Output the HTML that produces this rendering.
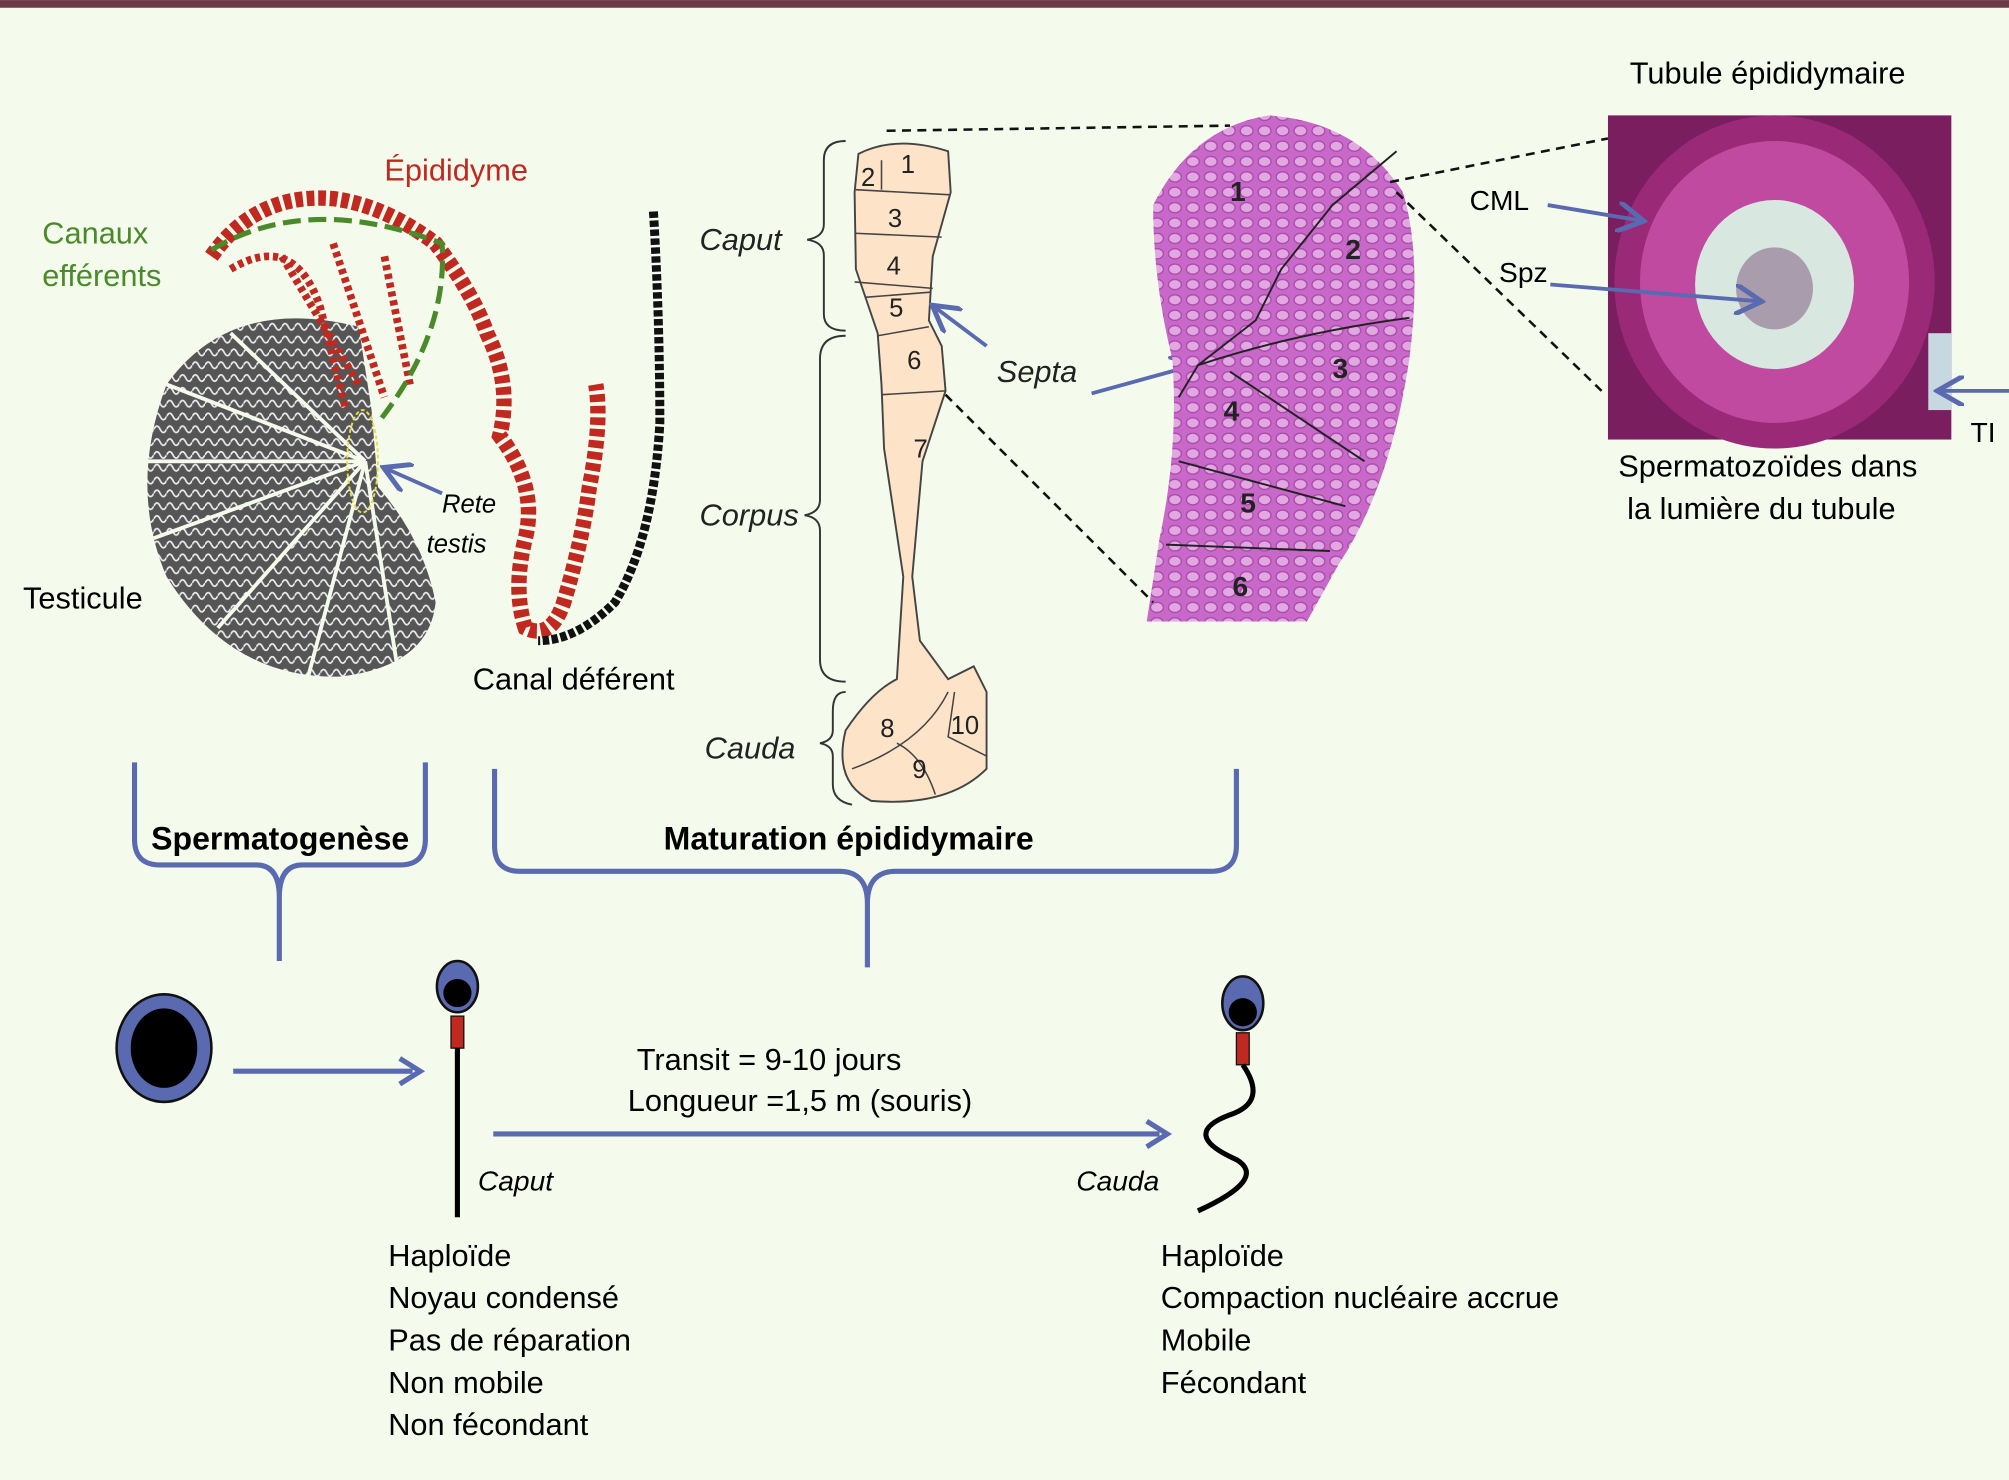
<!DOCTYPE html>
<html><head><meta charset="utf-8"><style>
html,body{margin:0;padding:0;background:#f4fbec}
svg{display:block}
text{font-family:"Liberation Sans",sans-serif}
</style></head><body>
<svg width="2009" height="1480" viewBox="0 0 1568 1155" xmlns="http://www.w3.org/2000/svg">
<defs>
<pattern id="wig" width="10" height="10" patternUnits="userSpaceOnUse">
<rect width="10" height="10" fill="#555"/>
<path d="M0 5 Q2.5 0 5 5 T10 5" stroke="#eee" stroke-width="1.3" fill="none"/>
</pattern>
<pattern id="cells" width="14" height="12" patternUnits="userSpaceOnUse">
<rect width="14" height="12" fill="#c868c8"/>
<ellipse cx="7" cy="6" rx="5" ry="4" fill="#e2a8e2" stroke="#a848a8" stroke-width="1"/>
</pattern>
<marker id="ah" markerWidth="8" markerHeight="8" refX="6" refY="4" orient="auto" markerUnits="strokeWidth">
<path d="M0 0 L7 4 L0 8" fill="none" stroke="#5a6ab0" stroke-width="1.3"/>
</marker>
</defs>
<rect width="1568" height="1155" fill="#f4fbec"/>
<rect width="1568" height="6" fill="#6e3a48"/>

<!-- testicle -->
<path d="M280 255 Q180 230 130 300 Q100 380 130 450 Q180 530 265 528 Q335 520 340 470 Q330 420 295 380 L290 320 Z" fill="url(#wig)"/>
<g stroke="#f4fbec" stroke-width="3">
<line x1="285" y1="360" x2="130" y2="300"/><line x1="285" y1="360" x2="115" y2="360"/>
<line x1="285" y1="360" x2="120" y2="420"/><line x1="285" y1="360" x2="170" y2="490"/>
<line x1="285" y1="360" x2="240" y2="530"/><line x1="285" y1="360" x2="310" y2="520"/>
<line x1="285" y1="360" x2="180" y2="260"/>
</g>
<ellipse cx="283" cy="360" rx="12" ry="40" fill="none" stroke="#e8e040" stroke-width="1.5" stroke-dasharray="3 2"/>
<!-- epididymis red -->
<path d="M165 200 Q200 150 260 155 Q300 160 340 190 Q370 230 380 260 Q400 300 390 340 Q420 380 410 420 Q400 460 410 490 Q430 500 440 470 Q455 420 460 380 Q470 330 465 300" fill="none" stroke="#c02820" stroke-width="12" stroke-dasharray="6 3"/>
<path d="M180 210 Q230 180 250 240 L270 320 M220 200 L280 300 M260 190 L300 310 M300 200 L320 300" stroke="#c02820" stroke-width="6" fill="none" stroke-dasharray="4 3"/>
<path d="M165 195 Q240 150 345 190 Q350 260 295 330" fill="none" stroke="#4a8a2a" stroke-width="4" stroke-dasharray="14 6"/>
<!-- canal deferent black -->
<path d="M510 165 Q515 250 515 330 Q510 420 480 470 Q450 500 420 500" fill="none" stroke="#111" stroke-width="7" stroke-dasharray="5 2"/>
<line x1="345" y1="385" x2="302" y2="366" stroke="#5a6ab0" stroke-width="3" marker-end="url(#ah)"/>
<text x="300" y="141" font-size="24" fill="#c02820">Épididyme</text>
<text x="33" y="190" font-size="24" fill="#4a8a2a">Canaux</text>
<text x="33" y="223" font-size="24" fill="#4a8a2a">efférents</text>
<text x="18" y="475" font-size="24">Testicule</text>
<text x="345" y="400" font-size="20" font-style="italic">Rete</text>
<text x="333" y="431" font-size="20" font-style="italic">testis</text>
<text x="369" y="538" font-size="24">Canal déférent</text>

<!-- segmented epididymis -->
<path d="M670 120 Q700 105 740 118 L742 150 L728 200 L725 250 L735 270 L738 305 L720 360 L712 450 L718 500 L740 530 L760 520 L770 540 L770 600 Q740 630 680 625 Q650 610 660 570 Q680 540 700 530 L705 450 L690 350 L688 300 L685 260 L668 210 L667 150 Z" fill="#fde3c8" stroke="#444" stroke-width="1.5"/>
<g stroke="#444" stroke-width="1.2" fill="none">
<line x1="668" y1="148" x2="742" y2="152"/><line x1="667" y1="182" x2="735" y2="185"/>
<line x1="667" y1="220" x2="728" y2="225"/><line x1="675" y1="232" x2="726" y2="228"/>
<line x1="685" y1="262" x2="725" y2="255"/><line x1="688" y1="308" x2="738" y2="305"/>
<path d="M665 600 Q720 580 740 540"/><path d="M700 580 Q720 590 730 620"/><path d="M745 540 L740 575 L770 590"/>
<line x1="688" y1="125" x2="688" y2="148"/>
</g>
<g font-size="20" fill="#222">
<text x="703" y="135">1</text><text x="672" y="145">2</text><text x="693" y="177">3</text><text x="692" y="214">4</text><text x="694" y="247">5</text><text x="708" y="288">6</text><text x="713" y="357">7</text><text x="687" y="575">8</text><text x="712" y="607">9</text><text x="742" y="573">10</text>
</g>
<g fill="none" stroke="#333" stroke-width="1.5">
<path d="M660 110 Q643 110 643 125 L643 175 Q643 185 630 187 Q643 189 643 199 L643 245 Q643 258 660 258"/>
<path d="M660 262 Q640 262 640 280 L640 390 Q640 400 628 402 Q640 404 640 414 L640 515 Q640 532 660 532"/>
<path d="M660 540 Q650 540 650 555 L650 570 Q650 578 640 580 Q650 582 650 590 L650 612 Q650 625 665 628"/>
</g>
<g font-size="24" font-style="italic" fill="#222">
<text x="546" y="195">Caput</text><text x="546" y="410">Corpus</text><text x="550" y="592">Cauda</text>
<text x="778" y="298">Septa</text>
</g>
<line x1="770" y1="270" x2="730" y2="240" stroke="#5a6ab0" stroke-width="3" marker-end="url(#ah)"/>
<line x1="852" y1="307" x2="932" y2="285" stroke="#5a6ab0" stroke-width="3" marker-end="url(#ah)"/>
<!-- tissue -->
<path d="M900 160 Q930 100 990 90 Q1060 95 1095 150 Q1110 200 1100 280 Q1085 380 1045 440 L1020 485 L895 485 L905 420 Q920 350 915 280 Q900 220 900 160 Z" fill="url(#cells)"/>
<g stroke="#222" stroke-width="1.5" fill="none">
<path d="M1090 118 L1040 160 L1000 210 L980 250 L935 285 L920 310"/>
<path d="M935 285 Q1010 260 1100 248"/><path d="M960 290 L1020 330 L1065 360"/>
<path d="M920 360 L1050 395"/><path d="M910 425 L1038 430"/>
</g>
<g font-size="22" font-weight="bold" fill="#222">
<text x="960" y="157">1</text><text x="1050" y="202">2</text><text x="1040" y="295">3</text><text x="955" y="328">4</text><text x="968" y="400">5</text><text x="962" y="465">6</text>
</g>
<g stroke="#111" stroke-width="2" stroke-dasharray="7 5">
<line x1="692" y1="102" x2="960" y2="98"/><line x1="738" y1="308" x2="900" y2="470"/>
<line x1="1085" y1="142" x2="1255" y2="108"/><line x1="1090" y1="150" x2="1250" y2="305"/>
</g>
<!-- histology -->
<rect x="1255" y="90" width="268" height="253" fill="#7a1e60"/>
<ellipse cx="1385" cy="220" rx="125" ry="130" fill="#9a2a78"/>
<ellipse cx="1385" cy="220" rx="105" ry="110" fill="#c04aa0"/>
<ellipse cx="1385" cy="222" rx="62" ry="66" fill="#d8e8e0"/>
<ellipse cx="1385" cy="225" rx="30" ry="32" fill="#8a6a8a" opacity="0.6"/>
<rect x="1505" y="260" width="18" height="60" fill="#c8d8e0"/>
<text x="1272" y="65" font-size="24">Tubule  épididymaire</text>
<text x="1147" y="164" font-size="22">CML</text>
<text x="1170" y="220" font-size="22">Spz</text>
<text x="1538" y="345" font-size="22">TI</text>
<line x1="1208" y1="160" x2="1280" y2="172" stroke="#5a6ab0" stroke-width="3" marker-end="url(#ah)"/>
<line x1="1210" y1="222" x2="1372" y2="235" stroke="#5a6ab0" stroke-width="3" marker-end="url(#ah)"/>
<line x1="1568" y1="305" x2="1515" y2="305" stroke="#5a6ab0" stroke-width="3" marker-end="url(#ah)"/>
<text x="1263" y="372" font-size="24">Spermatozoïdes dans</text>
<text x="1270" y="405" font-size="24">la lumière du tubule</text>

<!-- braces -->
<g fill="none" stroke="#5a6ab0" stroke-width="4">
<path d="M105 595 L105 655 Q105 675 125 675 L200 675 Q218 675 218 700 L218 750 M218 700 Q218 675 236 675 L312 675 Q332 675 332 655 L332 595"/>
<path d="M386 600 L386 660 Q386 680 406 680 L655 680 Q677 680 677 705 L677 755 M677 705 Q677 680 699 680 L945 680 Q965 680 965 660 L965 600"/>
</g>
<text x="118" y="663" font-size="25" font-weight="bold">Spermatogenèse</text>
<text x="518" y="663" font-size="25" font-weight="bold">Maturation épididymaire</text>

<!-- cells -->
<ellipse cx="128" cy="818" rx="37" ry="42" fill="#5a6ab0" stroke="#111" stroke-width="2"/>
<ellipse cx="128" cy="818" rx="26" ry="31" fill="#000"/>
<line x1="182" y1="836" x2="322" y2="836" stroke="#5a6ab0" stroke-width="4"/>
<path d="M312 826 L328 836 L312 846" fill="none" stroke="#5a6ab0" stroke-width="4"/>
<ellipse cx="357" cy="770" rx="16" ry="20" fill="#5a6ab0" stroke="#111" stroke-width="2"/>
<circle cx="357" cy="775" r="11" fill="#000"/>
<rect x="352" y="793" width="10" height="25" fill="#c02820" stroke="#111"/>
<line x1="357" y1="818" x2="357" y2="950" stroke="#000" stroke-width="4"/>
<line x1="385" y1="885" x2="905" y2="885" stroke="#5a6ab0" stroke-width="4"/>
<path d="M895 875 L911 885 L895 895" fill="none" stroke="#5a6ab0" stroke-width="4"/>
<ellipse cx="970" cy="783" rx="16" ry="21" fill="#5a6ab0" stroke="#111" stroke-width="2"/>
<circle cx="970" cy="790" r="11" fill="#000"/>
<rect x="965" y="806" width="10" height="25" fill="#c02820" stroke="#111"/>
<path d="M970 831 Q990 860 960 870 Q920 885 965 905 Q990 920 935 945" fill="none" stroke="#000" stroke-width="4"/>
<text x="497" y="835" font-size="24">Transit = 9-10 jours</text>
<text x="490" y="867" font-size="24">Longueur =1,5 m (souris)</text>
<text x="373" y="929" font-size="22" font-style="italic">Caput</text>
<text x="840" y="929" font-size="22" font-style="italic">Cauda</text>
<g font-size="24">
<text x="303" y="988">Haploïde</text><text x="303" y="1021">Noyau condensé</text><text x="303" y="1054">Pas de réparation</text><text x="303" y="1087">Non mobile</text><text x="303" y="1120">Non fécondant</text>
<text x="906" y="988">Haploïde</text><text x="906" y="1021">Compaction nucléaire accrue</text><text x="906" y="1054">Mobile</text><text x="906" y="1087">Fécondant</text>
</g>
</svg>
</body></html>
